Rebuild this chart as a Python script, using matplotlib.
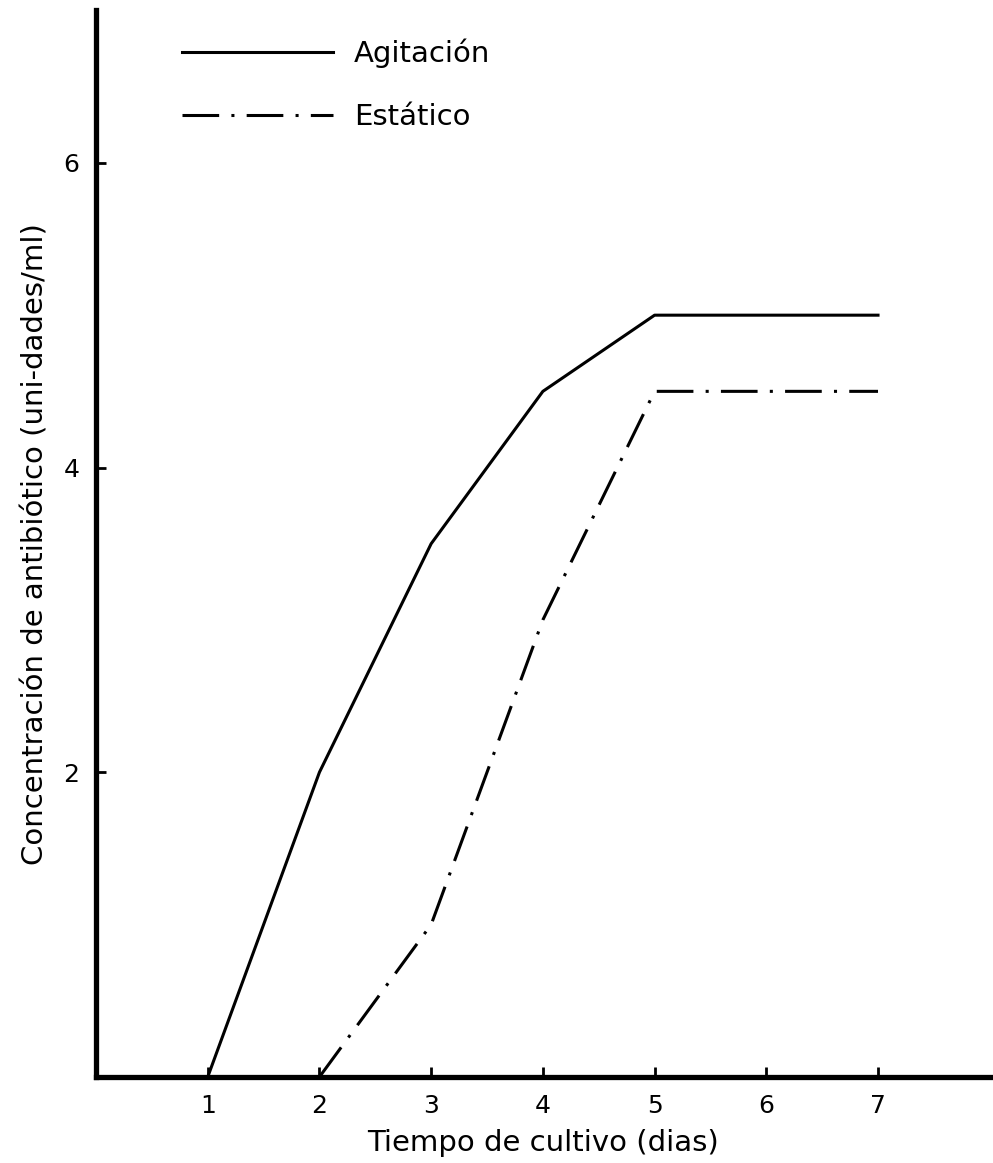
import numpy as np
import matplotlib.pyplot as plt

plt.rcParams['font.family'] = ['DejaVu Sans']

dias_agit = [1, 2, 3, 4, 5, 7]
conc_agit = [0, 2, 3.5, 4.5, 5, 5]
dias_est = [2, 3, 4, 5, 7]
conc_est = [0, 1, 3, 4.5, 4.5]
xticks = [1, 2, 3, 4, 5, 6, 7]
yticks = [2, 4, 6]

fig = plt.figure(figsize=(9.93, 11.63), dpi=100)
ax = fig.add_axes([0.0967, 0.074, 0.9, 0.917])

ax.plot(dias_agit, conc_agit, color='black', lw=2.2, label='Agitación')
ax.plot(dias_est, conc_est, color='black', lw=2.2, ls=(0, (12, 4, 1, 4)),
        label='Estático')

ax.set_xlim(0, 8)
ax.set_ylim(0, 7)
ax.set_xticks(xticks)
ax.set_yticks(yticks)
ax.tick_params(direction='in', length=7, width=2, labelsize=18, pad=12)
for s in ['top', 'right']:
    ax.spines[s].set_visible(False)
for s in ['left', 'bottom']:
    ax.spines[s].set_linewidth(3.8)

ax.set_xlabel('Tiempo de cultivo (dias)', fontsize=21, labelpad=8)
ax.set_ylabel('Concentración de antibiótico (uni-dades/ml)', fontsize=21,
              labelpad=10)

ax.legend(loc='upper left', bbox_to_anchor=(167 / 993, 1 - 24 / 1163),
          bbox_transform=fig.transFigure, frameon=False, fontsize=21,
          handlelength=5.2, labelspacing=1.2, handletextpad=0.7,
          borderpad=0)

fig.savefig('out.png', dpi=100)
